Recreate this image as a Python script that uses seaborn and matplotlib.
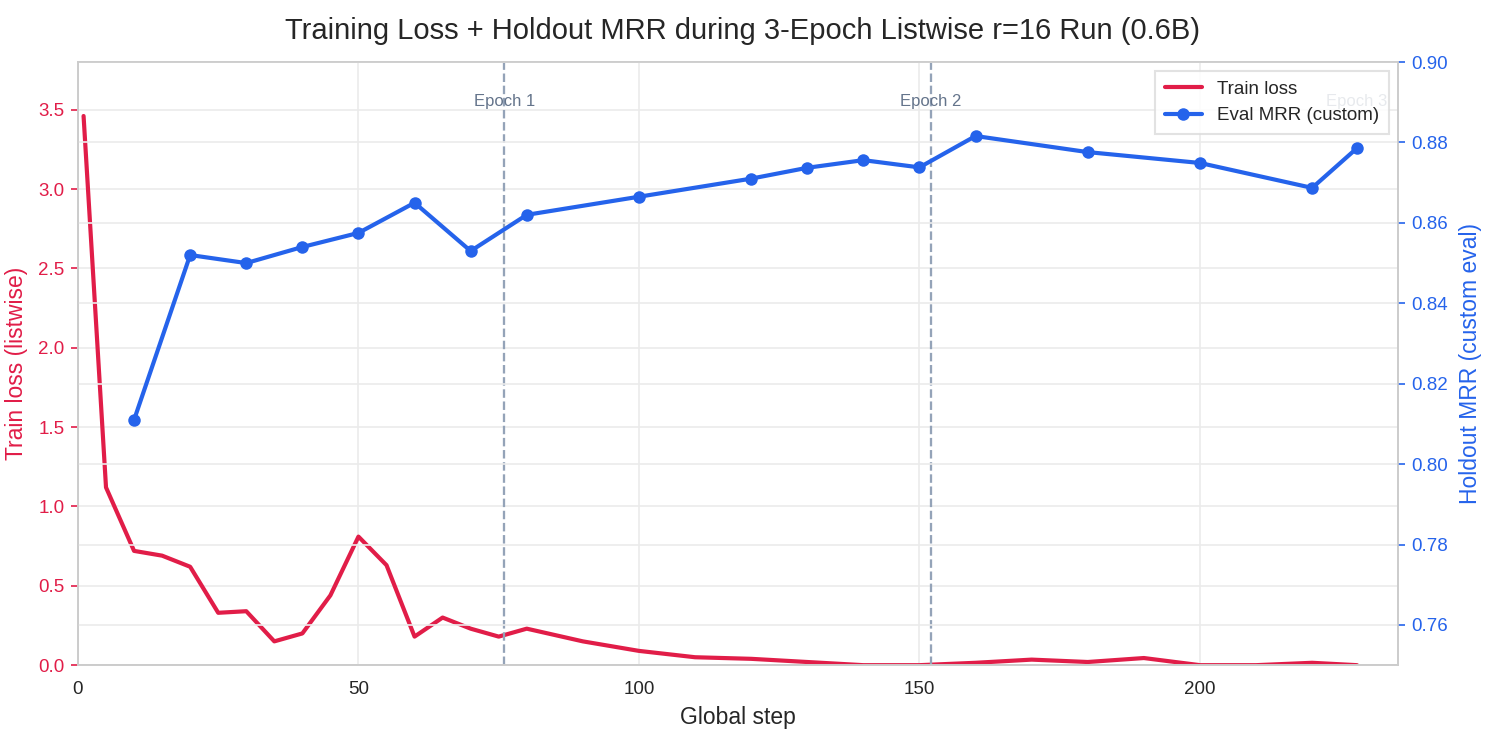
import matplotlib
matplotlib.use("Agg")
import matplotlib.pyplot as plt
import seaborn as sns

# -------------------------------------------------------------
# DATA
# -------------------------------------------------------------
loss_steps = [1, 5, 10, 15, 20, 25, 30, 35, 40, 45, 50, 55, 60, 65, 70, 75,
              80, 90, 100, 110, 120, 130, 140, 150, 160, 170, 180, 190, 200,
              210, 220, 228]
train_loss = [3.46, 1.12, 0.72, 0.69, 0.62, 0.33, 0.34, 0.15, 0.20, 0.44,
              0.81, 0.63, 0.18, 0.30, 0.23, 0.18, 0.23, 0.15, 0.09, 0.05,
              0.04, 0.02, 0.0, 0.0, 0.015, 0.035, 0.02, 0.045, 0.0, 0.0,
              0.015, 0.0]

eval_steps = [10, 20, 30, 40, 50, 60, 70, 80, 100, 120, 130, 140, 150, 160,
              180, 200, 220, 228]
eval_mrr = [0.811, 0.852, 0.850, 0.854, 0.8575, 0.865, 0.853, 0.862, 0.8665,
            0.871, 0.8737, 0.8756, 0.8738, 0.8816, 0.8776, 0.8749, 0.8687,
            0.8786]

epoch_steps = [76, 152, 228]
epoch_labels = ["Epoch 1", "Epoch 2", "Epoch 3"]

LOSS_COLOR = "#e11d48"
MRR_COLOR = "#2563eb"

sns.set_style("whitegrid", {"grid.color": "#ebebeb", "axes.edgecolor": "#cccccc"})
plt.rcParams["font.family"] = ["Liberation Sans", "DejaVu Sans"]

fig, ax = plt.subplots(figsize=(9.9, 4.9), dpi=150)
fig.subplots_adjust(left=0.0525, right=0.9414, bottom=0.095, top=0.9156)

# Train loss (left axis)
sns.lineplot(x=loss_steps, y=train_loss, ax=ax, color=LOSS_COLOR, lw=2,
             label="Train loss", legend=False)
ax.set_xlim(0, 235.3)
ax.set_ylim(0, 3.8)
ax.set_xlabel("Global step", fontsize=11, labelpad=4)
ax.set_ylabel("Train loss (listwise)", fontsize=11, color=LOSS_COLOR, labelpad=5)
ax.tick_params(axis="y", colors=LOSS_COLOR, labelsize=9, pad=3)
ax.tick_params(axis="x", labelsize=9, pad=4)

# Epoch boundaries
for s, lab in zip(epoch_steps, epoch_labels):
    if s < epoch_steps[-1]:
        ax.axvline(s, color="#94a3b8", ls="--", lw=1.1)
    ax.text(s, 0.935, lab, transform=ax.get_xaxis_transform(),
            ha="center", va="center", fontsize=8, color="#64748b")

# Eval MRR (right axis)
ax2 = ax.twinx()
sns.lineplot(x=eval_steps, y=eval_mrr, ax=ax2, color=MRR_COLOR, lw=2,
             marker="o", markersize=6, markeredgewidth=0,
             label="Eval MRR (custom)", legend=False)
ax2.set_ylim(0.75, 0.90)
ax2.set_ylabel("Holdout MRR (custom eval)", fontsize=11, color=MRR_COLOR, labelpad=5)
ax2.tick_params(axis="y", colors=MRR_COLOR, labelsize=9, pad=3)
ax2.grid(True, color="#ebebeb")
for sp in ax2.spines.values():
    sp.set_edgecolor("#cccccc")

h1, l1 = ax.get_legend_handles_labels()
h2, l2 = ax2.get_legend_handles_labels()
leg = ax2.legend(h1 + h2, l1 + l2, loc="upper right", fontsize=9,
                 frameon=True, framealpha=0.85, edgecolor="#dddddd",
                 fancybox=False, borderpad=0.5)

fig.suptitle("Training Loss + Holdout MRR during 3-Epoch Listwise r=16 Run (0.6B)",
             fontsize=14, y=0.977)

fig.savefig("out.png", dpi=150)
